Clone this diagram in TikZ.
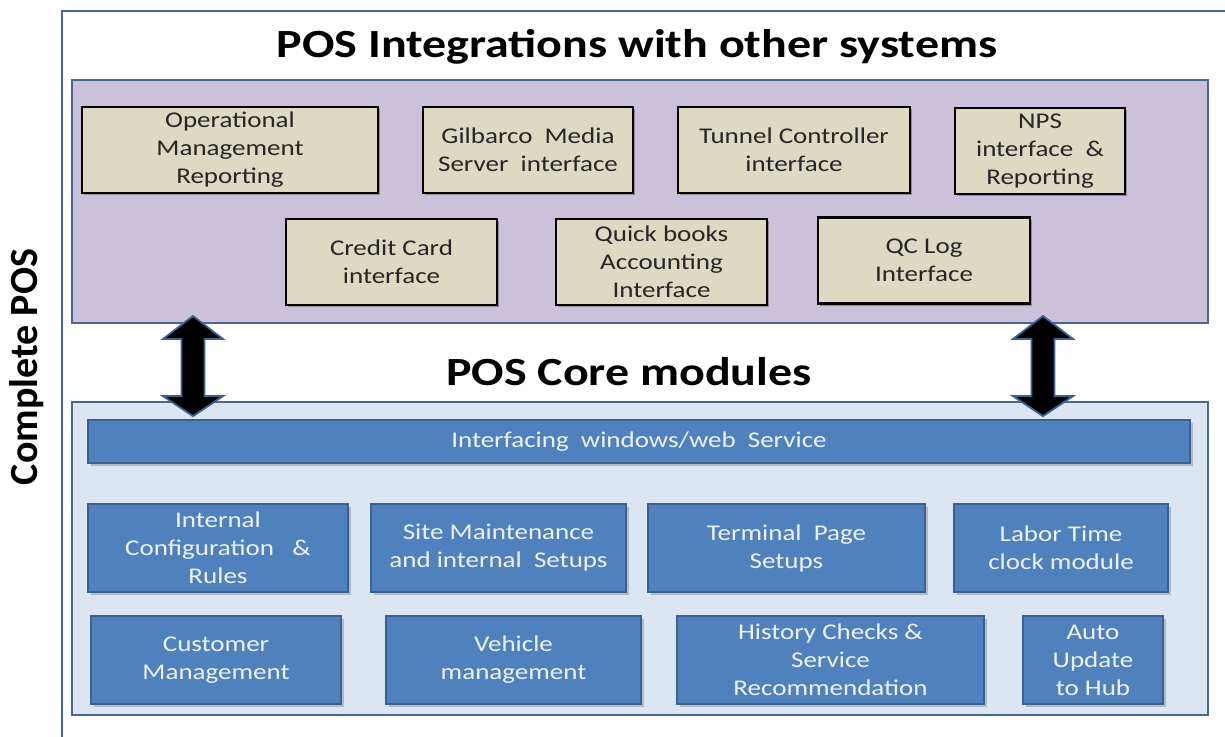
\documentclass[tikz,border=0pt]{standalone}
\usepackage{fontspec}
\setmainfont{Carlito}[FakeStretch=1.2]
\newfontfamily\uprightlabel{Carlito}
\usetikzlibrary{calc,shadows}

\definecolor{framecol}{HTML}{4A6792}
\definecolor{lavender}{HTML}{CCC1DA}
\definecolor{paleblue}{HTML}{DCE6F2}
\definecolor{tanfill}{HTML}{DDD9C3}
\definecolor{modblue}{HTML}{4F81BD}
\definecolor{modedge}{HTML}{3A6190}
\definecolor{modtext}{HTML}{EEF2F8}
\definecolor{tantext}{HTML}{262626}

\tikzset{
  panel/.style={draw=framecol, line width=2pt, inner sep=0pt},
  extbox/.style={draw=black, line width=2.6pt, fill=tanfill, text=tantext,
    align=center, inner sep=0pt, minimum height=86pt,
    font=\fontsize{22.5}{28}\selectfont,
    drop shadow={shadow xshift=2pt, shadow yshift=-2pt, opacity=0.45, fill=black!70}},
  modbox/.style={draw=modedge, line width=1.8pt, fill=modblue, text=modtext,
    align=center, inner sep=0pt, minimum height=88pt,
    font=\fontsize{22.5}{28}\selectfont,
    drop shadow={shadow xshift=2.5pt, shadow yshift=-2.5pt, opacity=0.35, fill=black!60}},
  headline/.style={font=\bfseries\fontsize{40}{46}\selectfont, text=black, inner sep=0pt},
  bigarrow/.style={fill=black, draw=modedge, line width=1.8pt, line join=miter}
}

% double-headed block arrow between two tips (top tip, bottom tip)
\newcommand\blockarrow[2]{%
  \draw[bigarrow] (#1) -- ++(30,23) -- ++(-18.5,0)
    -- ($(#2)+(11.5,-20)$) -- ++(18.5,0) -- (#2) -- ++(-30,-20) -- ++(18.5,0)
    -- ($(#1)+(-11.5,23)$) -- ++(-18.5,0) -- cycle;}

\begin{document}
\begin{tikzpicture}[x=1pt,y=-1pt]
\useasboundingbox (0,0) rectangle (1225,736);
\fill[white] (0,0) rectangle (1225,736);

% outer frame of the whole system
\draw[framecol, line width=2.2pt] (62,11) rectangle (1240,750);
\node[inner sep=0pt, rotate=90, font=\uprightlabel\bfseries\fontsize{40}{46}\selectfont] (complete) at (27,367) {Complete POS};

% integrations panel
\node[headline] (inttitle) at (637,47) {POS Integrations with other systems};
\node[panel, fill=lavender, minimum width=1136pt, minimum height=243pt] (purple) at (640,201.5) {};

\node[extbox, minimum width=296pt] (opm) at (230,150) {Operational\\Management\\Reporting};
\node[extbox, minimum width=210pt] (gms) at (528,150) {Gilbarco\ \ Media\\Server\ \ interface};
\node[extbox, minimum width=232pt] (tun) at (794,150) {Tunnel Controller\\interface};
\node[extbox, minimum width=170pt] (nps) at (1040,151) {NPS\\interface\ \ \&\\Reporting};
\node[extbox, minimum width=211pt] (ccd) at (391.5,262) {Credit Card\\interface};
\node[extbox, minimum width=211pt] (qbk) at (661.5,262) {Quick books\\Accounting\\Interface};
\node[extbox, minimum width=212pt] (qcl) at (924,260.5) {QC Log\\Interface};

% core modules panel
\node[headline] (coretitle) at (629,372) {POS Core modules};
\node[panel, fill=paleblue, minimum width=1136pt, minimum height=313pt] (core) at (640,558.5) {};

\node[modbox, minimum width=1102pt, minimum height=43pt] (bar) at (639,441.5) {Interfacing\ \ windows/web\ \ Service};

\node[modbox, minimum width=260pt] (icr) at (218,548) {Internal\\Configuration\ \ \ \&\\Rules};
\node[modbox, minimum width=255pt] (smi) at (498.5,548) {Site Maintenance\\and\ internal\ \ Setups};
\node[modbox, minimum width=277pt] (tps) at (786.5,548) {Terminal\ \ Page\\Setups};
\node[modbox, minimum width=214pt] (ltc) at (1061,548) {Labor Time\\clock module};

\node[modbox, minimum width=250pt] (cmg) at (216,660) {Customer\\Management};
\node[modbox, minimum width=255pt] (vmg) at (513.5,660) {Vehicle\\management};
\node[modbox, minimum width=307pt] (hcs) at (830.5,660) {History Checks \&\\Service\\Recommendation};
\node[modbox, minimum width=140pt] (auh) at (1093,660) {Auto\\Update\\to Hub};

% links between the integrations panel and the interfacing service
\coordinate (axl) at (193,0);
\coordinate (axr) at (1043,0);
\coordinate (ltop) at ($(purple.south -| axl)+(0,-8)$);
\coordinate (lbot) at ($(bar.north -| axl)+(0,-3)$);
\coordinate (rtop) at ($(purple.south -| axr)+(0,-8)$);
\coordinate (rbot) at ($(bar.north -| axr)+(0,-3)$);
\blockarrow{ltop}{lbot}
\blockarrow{rtop}{rbot}
\end{tikzpicture}
\end{document}
